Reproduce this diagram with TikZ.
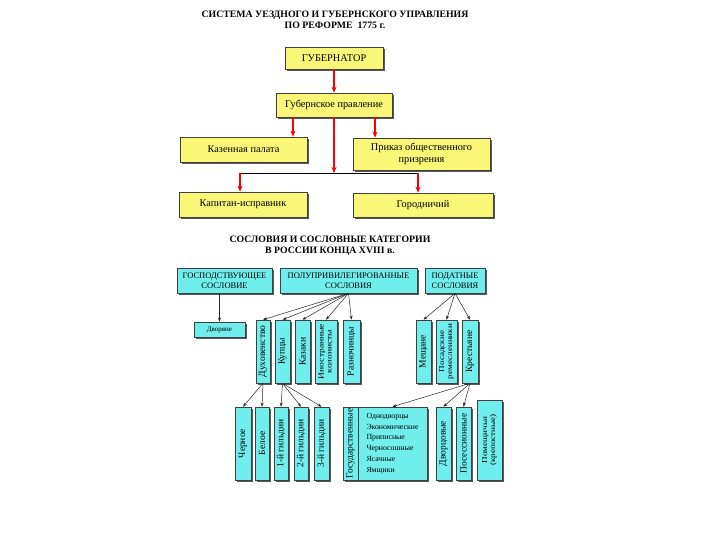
\documentclass[tikz,border=0pt]{standalone}
\usepackage{fontspec}
\setmainfont{Liberation Serif}
\usetikzlibrary{arrows.meta,shadows}
\definecolor{boxyellow}{RGB}{250,246,120}
\definecolor{boxcyan}{RGB}{112,238,238}

\begin{document}
\begin{tikzpicture}[x=1pt, y=-1pt,
    shade box/.style={draw=black!75, line width=0.6pt, inner sep=1pt, align=center,
        drop shadow={shadow xshift=1.6pt, shadow yshift=-1.6pt, fill=black!65, opacity=1}},
    ybox/.style={shade box, fill=boxyellow, font=\fontsize{10.3}{11.8}\selectfont},
    cbox/.style={shade box, fill=boxcyan, font=\fontsize{8.5}{9.5}\selectfont},
    vbox/.style={shade box, fill=boxcyan, font=\fontsize{9.5}{10}\selectfont},
    vbox2/.style={shade box, fill=boxcyan, font=\fontsize{7.6}{8}\selectfont},
    title/.style={align=center, font=\fontsize{9.8}{10.8}\selectfont\bfseries},
    redarrow/.style={draw=red, line width=1.6pt, -{Stealth[length=6pt,width=5pt]}},
    arr/.style={draw=black!85, line width=0.5pt, -{Stealth[length=4pt,width=3pt]}}]
    \useasboundingbox[fill=white](0,0)rectangle(720,540);
    % titles
    \node[title](title1)at(335,20){СИСТЕМА УЕЗДНОГО И ГУБЕРНСКОГО УПРАВЛЕНИЯ\\ПО РЕФОРМЕ\ \ 1775 г.};
    \node[title](title2)at(330,246){СОСЛОВИЯ И СОСЛОВНЫЕ КАТЕГОРИИ\\В РОССИИ КОНЦА XVIII в.};
    % administration
    \node[ybox, minimum width=98, minimum height=22](gub)at(334,58){ГУБЕРНАТОР};
    \node[ybox, minimum width=116, minimum height=24](prav)at(334,105){Губернское правление};
    \node[ybox, minimum width=127, minimum height=25](kazna)at(243.5,149.5){Казенная палата};
    \node[ybox, minimum width=137, minimum height=32](prikaz)at(421.5,154){Приказ общественного\\призрения};
    \node[ybox, minimum width=128, minimum height=25](kapitan)at(243,204.5){Капитан-исправник};
    \node[ybox, minimum width=140, minimum height=24](gorod)at(423,205){Городничий};
    \coordinate(kl)at(293,0);
    \coordinate(pr)at(375,0);
    \coordinate(junc)at(334,173);
    \coordinate(jl)at(240,173);
    \coordinate(jr)at(418,173);
    \path[redarrow](gub)to(prav);
    \path[redarrow](prav.south-|kl)to(kazna.north-|kl);
    \path[redarrow](prav.south-|pr)to(prikaz.north-|pr);
    \path[redarrow](prav.south)to(junc);
    \path[draw, line width=0.6pt](jl)to(jr);
    \path[redarrow](jl)to(jl|-kapitan.north);
    \path[redarrow](jr)to(jr|-gorod.north);
    % estates
    \node[cbox, minimum width=95, minimum height=25](gosp)at(224.5,280.5){ГОСПОДСТВУЮЩЕЕ\\СОСЛОВИЕ};
    \node[cbox, minimum width=137, minimum height=25](polu)at(348.5,280.5){ПОЛУПРИВИЛЕГИРОВАННЫЕ\\СОСЛОВИЯ};
    \node[cbox, minimum width=60, minimum height=25](podat)at(455,280.5){ПОДАТНЫЕ\\СОСЛОВИЯ};
    % categories
    \node[cbox, font=\fontsize{7}{8}\selectfont, minimum width=51, minimum height=15](dvor)at(219.5,329.5){Дворяне};
    \node[vbox, minimum width=14, minimum height=63](duh)at(263,351.5){\rotatebox{90}{Духовенство}};
    \node[vbox, minimum width=15, minimum height=63](kup)at(282.5,351.5){\rotatebox{90}{Купцы}};
    \node[vbox, minimum width=15, minimum height=63](kazak)at(302.5,351.5){\rotatebox{90}{Казаки}};
    \node[vbox2, minimum width=22, minimum height=63](inostr)at(326,351.5){\rotatebox{90}{\scalebox{1.25}[1]{\begin{tabular}{@{}c@{}}Иностранные\\колонисты\end{tabular}}}};
    \node[vbox, minimum width=17, minimum height=63](razn)at(351.5,351.5){\rotatebox{90}{Разночинцы}};
    \node[vbox, minimum width=15, minimum height=63](mesh)at(423.5,351.5){\rotatebox{90}{Мещане}};
    \node[vbox2, minimum width=21, minimum height=63](posad)at(446.5,351.5){\rotatebox{90}{\scalebox{1.2}[1]{\begin{tabular}{@{}c@{}}Посадские\\ремесленники\end{tabular}}}};
    \node[vbox, minimum width=16, minimum height=63](krest)at(470,351.5){\rotatebox{90}{Крестьяне}};
    % groups
    \node[vbox, minimum width=16, minimum height=73](cher)at(243,443.5){\rotatebox{90}{Черное}};
    \node[vbox, minimum width=14, minimum height=73](bel)at(262,443.5){\rotatebox{90}{Белое}};
    \node[vbox, minimum width=14, minimum height=73](gild1)at(281,443.5){\rotatebox{90}{1-й гильдии}};
    \node[vbox, minimum width=14, minimum height=73](gild2)at(301,443.5){\rotatebox{90}{2-й гильдии}};
    \node[vbox, minimum width=15, minimum height=73](gild3)at(321.5,443.5){\rotatebox{90}{3-й гильдии}};
    \node[vbox, minimum width=15, minimum height=73](gos)at(350.5,443.5){\rotatebox{90}{Государственные}};
    \node[shade box, fill=boxcyan, align=left, font=\fontsize{7.8}{10.8}\selectfont, minimum width=69, minimum height=73](spis)at(392.5,443.5){Однодворцы\\Экономические\\Приписные\\Черносошные\\Ясачные\\Ямщики};
    \node[vbox, minimum width=15, minimum height=73](dvorc)at(443.5,443.5){\rotatebox{90}{Дворцовые}};
    \node[vbox, minimum width=15, minimum height=73](poses)at(463.5,443.5){\rotatebox{90}{Посессионные}};
    \node[vbox2, minimum width=25, minimum height=80](pomesh)at(489.5,440){\rotatebox{90}{\scalebox{1.2}[1]{\begin{tabular}{@{}c@{}}Помещичьи\\(крепостные)\end{tabular}}}};
    % links
    \path[arr](gosp.south-|dvor)to(dvor.north);
    \foreach \n in {duh,kup,kazak,inostr,razn}
        \path[arr](polu.south)to(\n.north);
    \foreach \n in {mesh,posad,krest}
        \path[arr](podat.south)to(\n.north);
    \foreach \n in {cher,bel}
        \path[arr](duh.south)to(\n.north);
    \foreach \n in {gild1,gild2,gild3}
        \path[arr](kup.south)to(\n.north);
    \foreach \n in {spis,dvorc,poses}
        \path[arr](krest.south)to(\n.north);
\end{tikzpicture}
\end{document}
